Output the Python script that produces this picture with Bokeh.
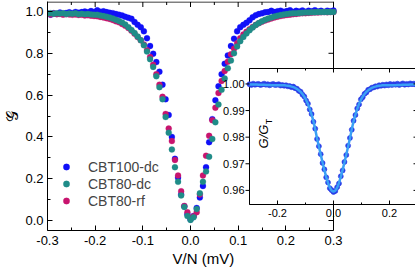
import math
from bokeh.plotting import figure
from bokeh.models import (FixedTicker, Legend, LegendItem, Range1d, PrintfTickFormatter, Title)
from bokeh.core.properties import value
from bokeh.embed import file_html
from bokeh.resources import INLINE

# ---------------- data ----------------
v_grid = [-0.3000, -0.2935, -0.2870, -0.2804, -0.2739, -0.2674, -0.2609, -0.2543, -0.2478, -0.2413,
          -0.2348, -0.2283, -0.2217, -0.2152, -0.2087, -0.2022, -0.1957, -0.1891, -0.1826, -0.1761,
          -0.1696, -0.1630, -0.1565, -0.1500, -0.1435, -0.1370, -0.1304, -0.1239, -0.1174, -0.1109,
          -0.1043, -0.0978, -0.0913, -0.0848, -0.0783, -0.0717, -0.0652, -0.0587, -0.0522, -0.0457,
          -0.0391, -0.0326, -0.0261, -0.0196, -0.0130, -0.0065, 0.0000,
          0.0065, 0.0130, 0.0196, 0.0261, 0.0326, 0.0391, 0.0457, 0.0522, 0.0587, 0.0652,
          0.0717, 0.0783, 0.0848, 0.0913, 0.0978, 0.1043, 0.1109, 0.1174, 0.1239, 0.1304,
          0.1370, 0.1435, 0.1500, 0.1565, 0.1630, 0.1696, 0.1761, 0.1826, 0.1891, 0.1957,
          0.2022, 0.2087, 0.2152, 0.2217, 0.2283, 0.2348, 0.2413, 0.2478, 0.2543, 0.2609,
          0.2674, 0.2739, 0.2804, 0.2870, 0.2935, 0.3000]

g_cbt100_dc = [0.990, 0.985, 0.992, 0.988, 0.995, 0.990, 0.993, 0.996, 0.992, 0.998,
               0.994, 0.997, 1.000, 0.996, 1.002, 0.998, 1.006, 0.999, 1.001, 0.997,
               0.994, 0.992, 0.988, 0.985, 0.981, 0.975, 0.970, 0.965, 0.950, 0.936,
               0.925, 0.905, 0.872, 0.835, 0.798, 0.758, 0.712, 0.650, 0.580, 0.505,
               0.400, 0.295, 0.205, 0.125, 0.068, 0.030, 0.005,
               0.022, 0.060, 0.110, 0.165, 0.255, 0.375, 0.485, 0.575, 0.642, 0.700,
               0.750, 0.790, 0.835, 0.870, 0.905, 0.925, 0.936, 0.946, 0.958, 0.972,
               0.982, 0.988, 0.991, 0.996, 0.998, 1.003, 0.997, 1.001, 1.004, 0.999,
               1.002, 1.006, 0.998, 1.003, 1.000, 1.005, 0.999, 1.004, 1.001, 1.006,
               1.000, 1.003, 0.998, 1.004, 1.001, 1.005]

g_cbt80_dc = [0.990, 0.992, 0.989, 0.991, 0.990, 0.992, 0.988, 0.990, 0.989, 0.991,
              0.987, 0.989, 0.987, 0.988, 0.986, 0.985, 0.984, 0.981, 0.978, 0.975,
              0.971, 0.966, 0.960, 0.954, 0.947, 0.938, 0.925, 0.912, 0.897, 0.880,
              0.862, 0.838, 0.808, 0.772, 0.735, 0.690, 0.638, 0.580, 0.495, 0.420,
              0.340, 0.255, 0.185, 0.120, 0.065, 0.022, 0.003,
              0.015, 0.055, 0.130, 0.185, 0.235, 0.305, 0.390, 0.470, 0.555, 0.625,
              0.680, 0.728, 0.765, 0.800, 0.833, 0.858, 0.878, 0.895, 0.910, 0.923,
              0.935, 0.945, 0.953, 0.960, 0.966, 0.971, 0.976, 0.980, 0.983, 0.986,
              0.988, 0.990, 0.991, 0.992, 0.993, 0.994, 0.995, 0.995, 0.996, 0.996,
              0.997, 0.997, 0.998, 0.997, 0.998, 0.998]

g_cbt80_rf = [0.988, 0.986, 0.990, 0.987, 0.988, 0.985, 0.987, 0.986, 0.984, 0.986,
              0.983, 0.984, 0.981, 0.982, 0.980, 0.978, 0.977, 0.974, 0.971, 0.968,
              0.964, 0.959, 0.953, 0.948, 0.940, 0.932, 0.921, 0.908, 0.894, 0.878,
              0.862, 0.842, 0.815, 0.782, 0.745, 0.700, 0.650, 0.592, 0.510, 0.440,
              0.380, 0.290, 0.215, 0.140, 0.070, 0.040, 0.012,
              0.020, 0.040, 0.125, 0.215, 0.310, 0.405, 0.480, 0.540, 0.610, 0.668,
              0.715, 0.760, 0.795, 0.822, 0.848, 0.872, 0.890, 0.903, 0.915, 0.926,
              0.936, 0.944, 0.951, 0.957, 0.962, 0.967, 0.971, 0.975, 0.978, 0.981,
              0.983, 0.985, 0.987, 0.988, 0.990, 0.991, 0.992, 0.993, 0.994, 0.995,
              0.995, 0.996, 0.997, 0.996, 0.997, 0.997]

# inset: measured G/G_T (points) and fit (line), CBT100-dc
g_inset_data = [0.9999, 0.9996, 1.0001, 0.9997, 0.9999, 1.0000, 0.9996, 0.9998, 1.0001, 0.9997,
                0.9999, 0.9995, 0.9998, 1.0000, 0.9996, 0.9997, 0.9999, 0.9994, 0.9996, 0.9993,
                0.9995, 0.9991, 0.9992, 0.9988, 0.9990, 0.9984, 0.9982, 0.9974, 0.9971, 0.9960,
                0.9953, 0.9938, 0.9926, 0.9904, 0.9887, 0.9858, 0.9832, 0.9793, 0.9766, 0.9736,
                0.9703, 0.9679, 0.9649, 0.9630, 0.9608, 0.9601, 0.9594,
                0.9598, 0.9612, 0.9626, 0.9653, 0.9675, 0.9707, 0.9733, 0.9768, 0.9797, 0.9828,
                0.9862, 0.9883, 0.9908, 0.9923, 0.9942, 0.9950, 0.9963, 0.9968, 0.9978, 0.9980,
                0.9986, 0.9987, 0.9991, 0.9990, 0.9995, 0.9993, 0.9997, 0.9994, 0.9998, 0.9995,
                1.0000, 0.9996, 0.9999, 0.9997, 1.0001, 0.9996, 0.9999, 1.0002, 0.9997, 1.0000,
                0.9998, 1.0002, 0.9999, 1.0001, 0.9998, 1.0000]

g_inset_fit = [0.9998, 0.9998, 0.9998, 0.9998, 0.9998, 0.9997, 0.9997, 0.9997, 0.9997, 0.9996,
               0.9996, 0.9996, 0.9995, 0.9995, 0.9995, 0.9995, 0.9995, 0.9995, 0.9995, 0.9995,
               0.9994, 0.9993, 0.9992, 0.9990, 0.9988, 0.9985, 0.9981, 0.9976, 0.9970, 0.9962,
               0.9952, 0.9940, 0.9925, 0.9906, 0.9885, 0.9860, 0.9830, 0.9795, 0.9765, 0.9735,
               0.9705, 0.9677, 0.9651, 0.9628, 0.9610, 0.9599, 0.9595,
               0.9599, 0.9610, 0.9628, 0.9651, 0.9677, 0.9705, 0.9735, 0.9765, 0.9795, 0.9830,
               0.9860, 0.9885, 0.9906, 0.9925, 0.9940, 0.9952, 0.9962, 0.9970, 0.9976, 0.9981,
               0.9985, 0.9988, 0.9990, 0.9992, 0.9993, 0.9994, 0.9995, 0.9995, 0.9995, 0.9995,
               0.9995, 0.9995, 0.9995, 0.9995, 0.9996, 0.9996, 0.9996, 0.9997, 0.9997, 0.9997,
               0.9997, 0.9998, 0.9998, 0.9998, 0.9998, 0.9998]

series_names = ["CBT100-dc", "CBT80-dc", "CBT80-rf"]
series_colors = ["#1010f8", "#1f8c88", "#c8146e"]

main_x_range = [-0.3, 0.3]
main_y_range = [-0.0478, 1.0478]
main_x_ticks = [-0.3, -0.2, -0.1, 0.0, 0.1, 0.2, 0.3]
main_x_minor = [-0.25, -0.15, -0.05, 0.05, 0.15, 0.25]
main_y_ticks = [0.0, 0.2, 0.4, 0.6, 0.8, 1.0]
main_y_minor = [0.1, 0.3, 0.5, 0.7, 0.9]
inset_x_range = [-0.3, 0.3]
inset_y_range = [0.9547, 1.0058]
inset_x_ticks = [-0.2, 0.0, 0.2]
inset_x_minor = [-0.3, -0.1, 0.1, 0.3]
inset_y_ticks = [0.96, 0.97, 0.98, 0.99, 1.00]

FONT = "Liberation Sans"

# ---------------- layout geometry (pixels) ----------------
W, H = 415, 268
MAIN_L, MAIN_R, MAIN_T, MAIN_B = 43, 329, 1, 230      # main axes box
INS_L, INS_R, INS_T, INS_B = 245, 413, 68, 204        # inset axes box
FRAME_R = W                                           # drawing frame reaches the right edge
X_TITLE_LEFT = 168                                    # left edge of the x-axis title

sx_main = (MAIN_R - MAIN_L) / (main_x_range[1] - main_x_range[0])
sy_main = (MAIN_B - MAIN_T) / (main_y_range[1] - main_y_range[0])
frame_x_end = main_x_range[1] + (FRAME_R - MAIN_R) / sx_main

sx_ins = (INS_R - INS_L) / (inset_x_range[1] - inset_x_range[0])
sy_ins = (INS_B - INS_T) / (inset_y_range[1] - inset_y_range[0])
ins_frame_x = [inset_x_range[0] - (INS_L - MAIN_L) / sx_ins,
               inset_x_range[1] + (FRAME_R - INS_R) / sx_ins]
ins_frame_y = [inset_y_range[0] - (MAIN_B - INS_B) / sy_ins,
               inset_y_range[1] + (INS_T - MAIN_T) / sy_ins]

p = figure(frame_width=FRAME_R - MAIN_L, frame_height=MAIN_B - MAIN_T,
           x_range=Range1d(main_x_range[0], frame_x_end), y_range=Range1d(*main_y_range),
           min_border_left=MAIN_L, min_border_right=0, min_border_top=MAIN_T,
           min_border_bottom=H - MAIN_B, output_backend="svg", toolbar_location=None)
p.extra_x_ranges = {"ix": Range1d(*ins_frame_x)}
p.extra_y_ranges = {"iy": Range1d(*ins_frame_y)}
p.grid.visible = False
p.outline_line_color = None
p.background_fill_color = "white"
p.border_fill_color = "white"

# main axes (left and bottom are Bokeh axes)
xa = p.xaxis[0]
xa.bounds = tuple(main_x_range)
xa.ticker = FixedTicker(ticks=main_x_ticks, minor_ticks=main_x_minor)
xa.formatter = PrintfTickFormatter(format="%.1f")
ya = p.yaxis[0]
ya.ticker = FixedTicker(ticks=main_y_ticks, minor_ticks=main_y_minor)
ya.formatter = PrintfTickFormatter(format="%.1f")
for ax in (xa, ya):
    ax.axis_line_color = "black"
    ax.major_tick_line_color = "black"
    ax.minor_tick_line_color = "black"
    ax.major_tick_in = 5
    ax.major_tick_out = 0
    ax.minor_tick_in = 3
    ax.minor_tick_out = 0
    ax.major_label_text_font = FONT
    ax.major_label_text_font_size = "13px"
    ax.major_label_text_color = "black"
    ax.axis_label_standoff = 0
    ax.axis_label_text_color = "black"
    ax.axis_label_text_font_style = "normal"
xa.major_label_standoff = 5
ya.major_label_standoff = 4
ya.axis_label = "\U0001D4A2"
ya.axis_label_text_font = "DejaVu Sans"
ya.axis_label_text_font_size = "16px"

# x-axis title, placed under the main box (not centred on the full drawing frame)
p.add_layout(Title(text="V/N (mV)", align="left", offset=X_TITLE_LEFT - MAIN_L, standoff=0,
                   text_font=FONT, text_font_size="15px", text_font_style="normal",
                   text_color="black"), "below")

# top and right edges of the main box, with inward ticks
y_top = main_y_range[1] - 0.5 / sy_main
p.segment(x0=[main_x_range[0]], y0=[y_top], x1=[main_x_range[1]], y1=[y_top], line_color="black")
p.segment(x0=[main_x_range[1]], y0=[main_y_range[0]], x1=[main_x_range[1]], y1=[main_y_range[1]],
          line_color="black")
for ticks, L in ((main_x_ticks, 5), (main_x_minor, 3)):
    p.segment(x0=ticks, y0=[y_top] * len(ticks), x1=ticks, y1=[y_top - L / sy_main] * len(ticks),
              line_color="black")
for ticks, L in ((main_y_ticks, 5), (main_y_minor, 3)):
    p.segment(x0=[main_x_range[1]] * len(ticks), y0=ticks,
              x1=[main_x_range[1] - L / sx_main] * len(ticks), y1=ticks, line_color="black")

# data
r_blue = p.scatter(v_grid, g_cbt100_dc, size=6, fill_color=series_colors[0],
                   line_color=series_colors[0], line_alpha=0.5, line_width=0.5)
r_mag = p.scatter(v_grid, g_cbt80_rf, size=6, fill_color=series_colors[2],
                  line_color=series_colors[2], line_alpha=0.5, line_width=0.5)
r_teal = p.scatter(v_grid, g_cbt80_dc, size=6, fill_color=series_colors[1],
                   line_color=series_colors[1], line_alpha=0.5, line_width=0.5)

legend = Legend(items=[LegendItem(label=series_names[0], renderers=[r_blue]),
                       LegendItem(label=series_names[1], renderers=[r_teal]),
                       LegendItem(label=series_names[2], renderers=[r_mag])],
                location=(11, 21), padding=0, margin=0, spacing=0,
                glyph_width=16, glyph_height=17, label_height=17, label_standoff=14,
                label_text_font=FONT, label_text_font_size="14px",
                border_line_color=None, background_fill_alpha=0)
p.add_layout(legend, "center")

# ---------------- inset (drawn on the inset ranges) ----------------
I = dict(x_range_name="ix", y_range_name="iy")
p.quad(left=[inset_x_range[0]], right=[inset_x_range[1]], bottom=[inset_y_range[0]],
       top=[inset_y_range[1]], fill_color="white", line_color="black", line_width=1, **I)
p.scatter(v_grid, g_inset_data, size=5, fill_color="#2a3ee8", line_color="#2a3ee8",
          line_alpha=0.6, **I)
p.line(v_grid, g_inset_fit, line_color="#3aa0f5", line_width=2.5, **I)

iy0, iy1 = inset_y_range
ix0, ix1 = inset_x_range
for ticks, L in ((inset_x_ticks, 4), (inset_x_minor, 2)):
    n = len(ticks)
    p.segment(x0=ticks, y0=[iy0] * n, x1=ticks, y1=[iy0 + L / sy_ins] * n, line_color="black", **I)
    p.segment(x0=ticks, y0=[iy1] * n, x1=ticks, y1=[iy1 - L / sy_ins] * n, line_color="black", **I)
n = len(inset_y_ticks)
p.segment(x0=[ix0] * n, y0=inset_y_ticks, x1=[ix0 - 4 / sx_ins] * n, y1=inset_y_ticks,
          line_color="black", **I)
p.segment(x0=[ix1] * n, y0=inset_y_ticks, x1=[ix1 - 4 / sx_ins] * n, y1=inset_y_ticks,
          line_color="black", **I)

p.text(x=[ix0 - 5 / sx_ins] * n, y=inset_y_ticks, text=["%.2f" % t for t in inset_y_ticks],
       text_align="right", text_baseline="middle", text_font=value(FONT),
       text_font_size="11px", text_color="black", **I)
p.text(x=inset_x_ticks, y=[iy0 - 4 / sy_ins] * len(inset_x_ticks),
       text=["%.1f" % t for t in inset_x_ticks], text_align="center", text_baseline="top",
       text_font=value(FONT), text_font_size="11px", text_color="black", **I)

# inset y title  G/G_T  (rotated)
p.text(x=[ix0 + 14 / sx_ins], y=[iy1 - 68 / sy_ins], text=["G/G"], angle=math.pi / 2,
       text_align="center", text_baseline="middle", text_font=value(FONT),
       text_font_style="italic", text_font_size="13px", text_color="black", **I)
p.text(x=[ix0 + 19 / sx_ins], y=[iy1 - 53 / sy_ins], text=["T"], angle=math.pi / 2,
       text_align="center", text_baseline="middle", text_font=value(FONT),
       text_font_size="9px", text_color="black", **I)

open("out.html", "w").write(file_html(p, INLINE))
